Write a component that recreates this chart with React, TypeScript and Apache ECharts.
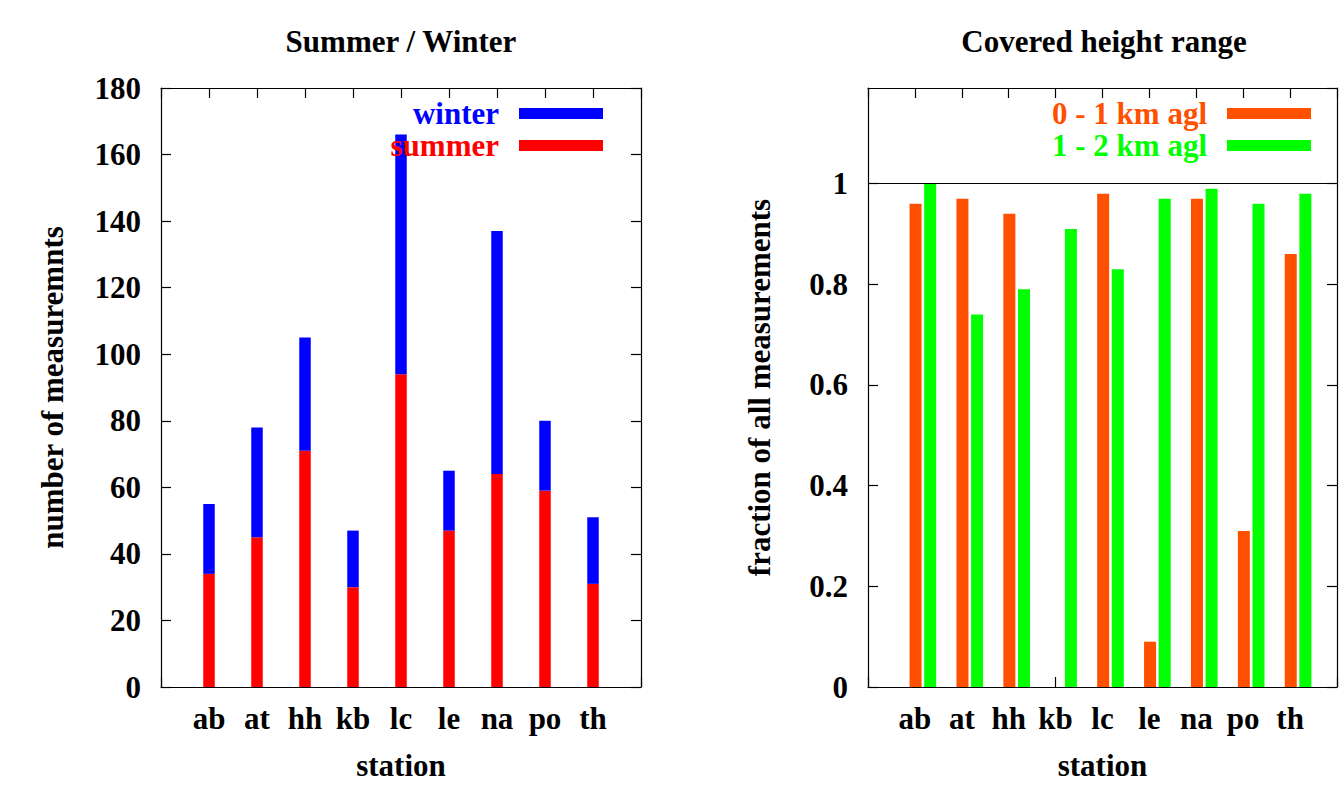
import React, { useEffect, useRef } from "react";
import * as echarts from "echarts";

// ---- data ----
const stations = ["ab", "at", "hh", "kb", "lc", "le", "na", "po", "th"];
const summerCounts = [34, 45, 71, 30, 94, 47, 64, 59, 31];
const winterCounts = [21, 33, 34, 17, 72, 18, 73, 21, 20];
const range0to1 = [0.96, 0.97, 0.94, 0, 0.98, 0.09, 0.97, 0.31, 0.86];
const range1to2 = [1.0, 0.74, 0.79, 0.91, 0.83, 0.97, 0.99, 0.96, 0.98];
const countAxis = { min: 0, max: 180, interval: 20 };
const fractionAxis = { min: 0, max: 1.19, interval: 0.2 };
const referenceFraction = 1;
// the grouped pair sits slightly right of the station tick in the original
const PAIR_SHIFT = 0.17;
// empty slots at both ends of the station axis (as in the original plot range)
const paddedStations = ["", ...stations, " "];

const FONT = "Liberation Serif";
const base = { fontFamily: FONT, fontWeight: "bold" as const, fontSize: 31, color: "#000" };
const AXIS_LINE = { show: true, onZero: false, lineStyle: { color: "#000", width: 1.2 } };
const TICK_IN = { show: true, inside: true, length: 10, lineStyle: { color: "#000", width: 1.2 } };

function stationCategoryAxis(gridIndex: number, position: "top" | "bottom", main: boolean) {
  return {
    type: "category",
    gridIndex,
    position,
    data: paddedStations,
    boundaryGap: false,
    axisLine: AXIS_LINE,
    axisTick: { ...TICK_IN, interval: 0 },
    splitLine: { show: false },
    axisLabel: main ? { ...base, margin: 16, interval: 0 } : { show: false },
    name: main ? "station" : "",
    nameLocation: "middle",
    nameGap: 63,
    nameTextStyle: base,
  };
}

function stationValueAxis(gridIndex: number, position: "top" | "bottom", main: boolean) {
  return {
    type: "value",
    gridIndex,
    position,
    min: -1,
    max: stations.length,
    interval: 1,
    axisLine: AXIS_LINE,
    axisTick: TICK_IN,
    splitLine: { show: false },
    axisLabel: main
      ? { ...base, margin: 16, formatter: (v: number) => stations[Math.round(v)] ?? "" }
      : { show: false },
    name: main ? "station" : "",
    nameLocation: "middle",
    nameGap: 63,
    nameTextStyle: base,
  };
}

function valueAxis(
  gridIndex: number,
  position: "left" | "right",
  range: { min: number; max: number; interval: number },
  name: string,
  nameGap: number
) {
  const main = position === "left";
  return {
    type: "value",
    gridIndex,
    position,
    min: range.min,
    max: range.max,
    interval: range.interval,
    axisLine: AXIS_LINE,
    axisTick: TICK_IN,
    splitLine: { show: false },
    axisLabel: main ? { ...base, margin: 20, showMaxLabel: range.max % range.interval === 0 } : { show: false },
    name: main ? name : "",
    nameLocation: "middle",
    nameGap,
    nameTextStyle: base,
  };
}

export default function App() {
  const ref = useRef<HTMLDivElement>(null);
  useEffect(() => {
    if (!ref.current) return;
    const chart = echarts.init(ref.current, undefined, { renderer: "svg" });
    const legendCommon = {
      orient: "vertical",
      align: "right",
      top: 93,
      icon: "rect",
      itemWidth: 84,
      itemHeight: 11,
      itemGap: 1,
      selectedMode: false,
      textStyle: { ...base, lineHeight: 30, padding: [0, 15, 0, 0] },
    };
    const titleStyle = { fill: "#000", font: `bold 31px "${FONT}"`, textAlign: "center", textVerticalAlign: "middle" };
    chart.setOption({
      animation: false,
      backgroundColor: "#fff",
      grid: [
        { left: 161, top: 88, width: 480, height: 599 },
        { left: 868, top: 88, width: 480, height: 599 },
      ],
      graphic: [
        { type: "text", x: 401, y: 41, style: { text: "Summer / Winter", ...titleStyle } },
        { type: "text", x: 1104, y: 41, style: { text: "Covered height range", ...titleStyle } },
      ],
      legend: [
        {
          ...legendCommon,
          right: 732,
          data: [
            { name: "winter", textStyle: { color: "#0000ff" } },
            { name: "summer", textStyle: { color: "#ff0000" } },
          ],
        },
        {
          ...legendCommon,
          right: 24,
          data: [
            { name: "0 - 1 km agl", textStyle: { color: "#ff5000" } },
            { name: "1 - 2 km agl", textStyle: { color: "#00ff00" } },
          ],
        },
      ],
      xAxis: [
        stationCategoryAxis(0, "bottom", true),
        stationCategoryAxis(0, "top", false),
        stationValueAxis(1, "bottom", true),
        stationValueAxis(1, "top", false),
      ],
      yAxis: [
        valueAxis(0, "left", countAxis, "number of measuremnts", 93),
        valueAxis(0, "right", countAxis, "", 0),
        valueAxis(1, "left", fractionAxis, "fraction of all measurements", 93),
        valueAxis(1, "right", fractionAxis, "", 0),
      ],
      series: [
        {
          name: "summer",
          type: "bar",
          xAxisIndex: 0,
          yAxisIndex: 0,
          stack: "total",
          barWidth: 11.5,
          itemStyle: { color: "#ff0000" },
          data: summerCounts.map((v, i) => [stations[i], v]),
        },
        {
          name: "winter",
          type: "bar",
          xAxisIndex: 0,
          yAxisIndex: 0,
          stack: "total",
          barWidth: 11.5,
          itemStyle: { color: "#0000ff" },
          data: winterCounts.map((v, i) => [stations[i], v]),
        },
        {
          name: "0 - 1 km agl",
          type: "bar",
          xAxisIndex: 2,
          yAxisIndex: 2,
          barWidth: 12,
          barGap: "22%",
          itemStyle: { color: "#ff5000" },
          data: range0to1.map((v, i) => [i + PAIR_SHIFT, v]),
          markLine: {
            silent: true,
            symbol: "none",
            label: { show: false },
            lineStyle: { color: "#000", width: 1, type: "solid" },
            data: [{ yAxis: referenceFraction }],
          },
        },
        {
          name: "1 - 2 km agl",
          type: "bar",
          xAxisIndex: 2,
          yAxisIndex: 2,
          barWidth: 12,
          barGap: "22%",
          itemStyle: { color: "#00ff00" },
          data: range1to2.map((v, i) => [i + PAIR_SHIFT, v]),
        },
      ],
    });
    return () => chart.dispose();
  }, []);
  return (
    <div
      ref={ref}
      style={{ position: "absolute", left: 0, top: 0, width: 1340, height: 800 }}
    />
  );
}
